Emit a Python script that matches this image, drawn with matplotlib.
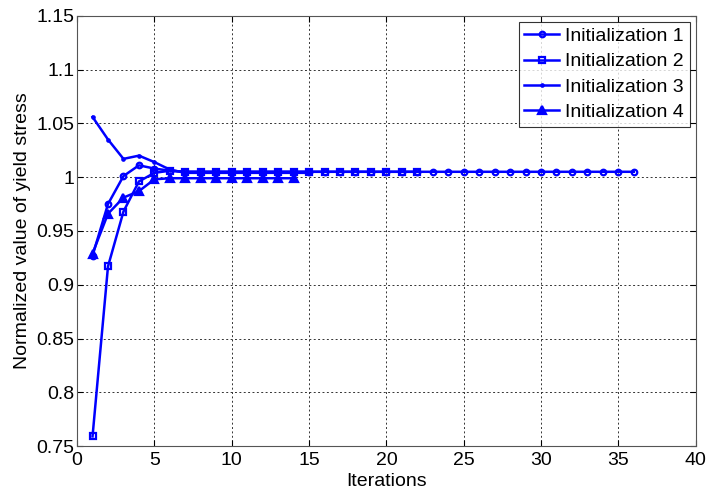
import matplotlib.pyplot as plt

plt.rcParams['font.family'] = ['Liberation Sans', 'DejaVu Sans']

# values
y_init1 = [0.927, 0.975, 1.001, 1.011, 1.008, 1.006] + [1.005] * 30
y_init2 = [0.759, 0.917, 0.968, 0.996, 1.004, 1.006] + [1.005] * 16
y_init3 = [1.056, 1.035, 1.017, 1.020, 1.014, 1.007] + [1.004] * 9
y_init4 = [0.929, 0.966, 0.981, 0.987, 0.998] + [0.999] * 9
labels = ['Initialization 1', 'Initialization 2', 'Initialization 3', 'Initialization 4']

series = [y_init1, y_init2, y_init3, y_init4]
markers = ['o', 's', '.', '^']
msizes = [4, 4.8, 3.5, 6]
filled = [False, False, True, True]

fig = plt.figure(figsize=(7.07, 4.94), dpi=100)
ax = fig.add_axes([0.109, 0.097, 0.875, 0.871])

for ys, lab, m, ms, f in zip(series, labels, markers, msizes, filled):
    xs = range(1, len(ys) + 1)
    ax.plot(xs, ys, color='blue', lw=1.8, marker=m, ms=ms, mew=1.6,
            mfc='blue' if f else 'none', mec='blue', label=lab)

ax.set_xlim(0, 40)
ax.set_ylim(0.75, 1.15)
ax.set_xticks(range(0, 41, 5))
ax.set_yticks([0.75, 0.8, 0.85, 0.9, 0.95, 1.0, 1.05, 1.1, 1.15])
ax.set_yticklabels(['0.75', '0.8', '0.85', '0.9', '0.95', '1', '1.05', '1.1', '1.15'])
ax.grid(True, color='#333333', linestyle=(0, (2, 2.5)), linewidth=0.7)
ax.tick_params(direction='in', labelsize=14, length=4, top=True, right=True, pad=2)
ax.tick_params(axis='x', pad=4)
for sp in ax.spines.values():
    sp.set_color('#555555')

ax.set_xlabel('Iterations', fontsize=14, labelpad=3)
ax.set_ylabel('Normalized value of yield stress', fontsize=14, labelpad=4)

leg = ax.legend(loc='upper right', fontsize=14, frameon=True, fancybox=False,
                edgecolor='black', borderpad=0.3, labelspacing=0.4,
                handlelength=1.8, handletextpad=0.3, borderaxespad=0.3)
leg.get_frame().set_linewidth(0.8)

fig.savefig('out.png', dpi=100)
